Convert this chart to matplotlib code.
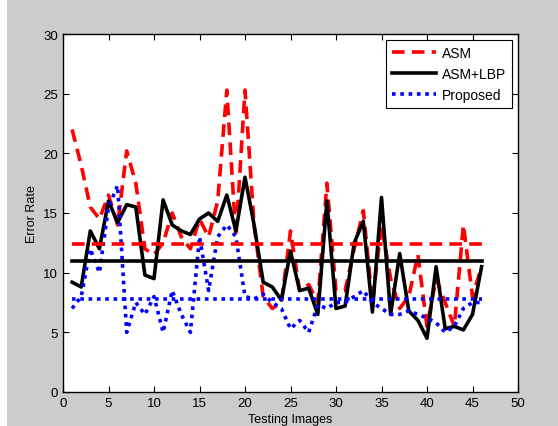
import matplotlib.pyplot as plt
from matplotlib.patches import Rectangle

plt.rcParams['font.family'] = ['Liberation Sans', 'DejaVu Sans']

images = list(range(1, 47))

asm = [22, 19, 15.5, 14.5, 16.5, 14, 20.2, 17.5, 12, 11.5,
       12.5, 15, 13, 12, 14.5, 13, 16, 25.3, 13, 25.3,
       14, 8, 7, 7.5, 13.5, 8.5, 9, 7.5, 17.5, 8.5,
       8.5, 12, 15.2, 7.5, 14, 9.5, 7, 8, 11.5, 5.5,
       9.5, 7.5, 5.5, 14, 8, 10.5]
asm_lbp = [9.2, 8.8, 13.5, 12, 16, 14.2, 15.7, 15.5, 9.8, 9.5,
           16.1, 14, 13.5, 13.2, 14.5, 15, 14.3, 16.5, 13.5, 18,
           14, 9.2, 8.8, 7.7, 11.8, 8.5, 8.7, 6.5, 16, 7,
           7.2, 12.5, 14.3, 6.7, 16.3, 6.5, 11.6, 6.8, 6, 4.5,
           10.5, 5.3, 5.5, 5.2, 6.5, 10.5]
proposed = [7, 8, 12, 10, 15.5, 17.3, 5, 7.5, 6.5, 8,
            5, 8.5, 6.5, 5, 13, 8.5, 13, 14, 13, 8,
            7.8, 8.2, 7.5, 7, 5.3, 6, 5, 7.3, 7, 7.5,
            7.5, 8, 8.5, 7.5, 7, 6.5, 6.5, 6.8, 6.5, 6.2,
            5.8, 5, 5.5, 7, 7.5, 7.5]

# average lines
asm_mean = 12.4
asm_lbp_mean = 11
proposed_mean = 7.8

fig = plt.figure(figsize=(5.58, 4.27), dpi=100, facecolor='#cccccc')
fig.patches.append(Rectangle((0, 0), 7 / 558, 1, transform=fig.transFigure,
                             facecolor='white', edgecolor='none', zorder=-1))
ax = fig.add_axes([63 / 558, 34 / 427, 455 / 558, 358 / 427])

ax.plot(images, asm, color='red', lw=2.6, ls=(0, (3.5, 2)), label='ASM')
ax.plot(images, asm_lbp, color='black', lw=2.6, label='ASM+LBP')
ax.plot(images, proposed, color='blue', lw=2.6, ls=(0, (1, 1.3)), label='Proposed')

ax.plot([images[0], images[-1]], [asm_mean] * 2, color='red', lw=2.6, ls=(0, (3.5, 2)))
ax.plot([images[0], images[-1]], [asm_lbp_mean] * 2, color='black', lw=2.6)
ax.plot([images[0], images[-1]], [proposed_mean] * 2, color='blue', lw=2.6, ls=(0, (1, 1.3)))

ax.set_xlim(0, 50)
ax.set_ylim(0, 30)
ax.set_xticks(range(0, 51, 5))
ax.set_yticks(range(0, 31, 5))
ax.tick_params(direction='in', top=True, right=True, labelsize=9.5, length=4, width=0.8)
for s in ax.spines.values():
    s.set_linewidth(1)

ax.set_xlabel('Testing Images', fontsize=9, labelpad=3)
ax.set_ylabel('Error Rate', fontsize=9, labelpad=4)

leg = ax.legend(loc='upper right', fontsize=10, handlelength=3.2, fancybox=False,
                framealpha=1, edgecolor='black', borderaxespad=0.4,
                labelspacing=0.5, borderpad=0.45, handletextpad=0.4)
leg.get_frame().set_linewidth(0.8)

fig.savefig('out.png', dpi=100, facecolor=fig.get_facecolor())
